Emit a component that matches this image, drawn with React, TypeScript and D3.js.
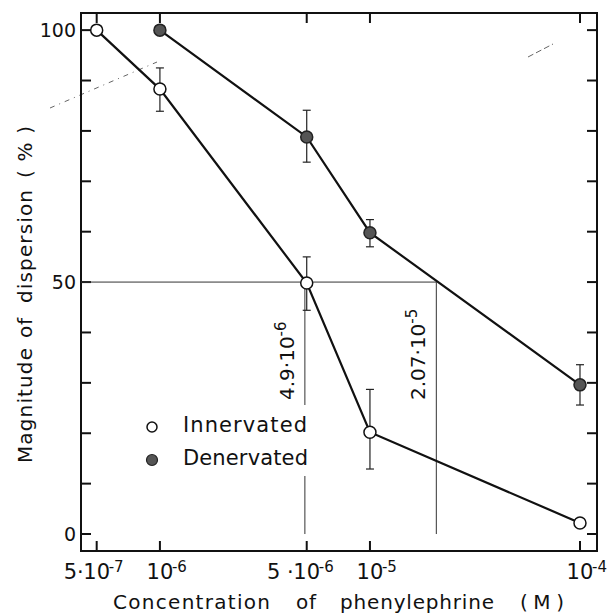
import { useRef, useEffect } from "react";
import * as d3 from "d3";

// concentrations (M) and response (%)
const concInnervated = [5e-7, 1e-6, 5e-6, 1e-5, 1e-4];
const innervated = [100, 88.3, 49.8, 20.2, 2.2];
const innervatedHi = [null, 92.5, 55, 28.7, null];
const innervatedLo = [null, 83.9, 44.4, 12.9, null];

const concDenervated = [1e-6, 5e-6, 1e-5, 1e-4];
const denervated = [100, 78.8, 59.8, 29.6];
const denervatedHi = [null, 84.1, 62.4, 33.6];
const denervatedLo = [null, 73.8, 57, 25.6];

// half-maximal concentrations
const ed50 = [4.9e-6, 2.07e-5];
const ed50Main = ["4.9·10", "2.07·10"];
const ed50Exp = ["-6", "-5"];

const xTicks = [5e-7, 1e-6, 5e-6, 1e-5, 1e-4];
const xTickPrefix = ["5·", "", "5 ·", "", ""];
const xTickExp = ["-7", "-6", "-6", "-5", "-4"];
const yTicks = [0, 10, 20, 30, 40, 50, 60, 70, 80, 90, 100];
const yLabels = [0, 50, 100];

const FONT = "'DejaVu Sans', sans-serif";

function drawChart(el: SVGSVGElement) {
  const svg = d3.select(el);
  svg.selectAll("*").remove();

  const x = d3.scaleLog().domain([4.21e-7, 1.205e-4]).range([81, 597]);
  const y = d3.scaleLinear().domain([-3.37, 103.4]).range([551, 13]);
  const [x0, x1] = x.range();
  const [y0, y1] = y.range();

  // stray scan marks
  svg.append("line").attr("x1", 50).attr("y1", 108).attr("x2", 157).attr("y2", 62)
    .attr("stroke", "#666").attr("stroke-width", 1).attr("stroke-dasharray", "5,5,1,5");
  svg.append("line").attr("x1", 528).attr("y1", 57).attr("x2", 553).attr("y2", 44)
    .attr("stroke", "#666").attr("stroke-width", 1).attr("stroke-dasharray", "6,3");

  // frame
  svg.append("rect").attr("x", x0).attr("y", y1).attr("width", x1 - x0).attr("height", y0 - y1)
    .attr("fill", "none").attr("stroke", "#111").attr("stroke-width", 2);

  const ticks = svg.append("g").attr("stroke", "#111").attr("stroke-width", 2);
  yTicks.forEach((t) => {
    ticks.append("line").attr("x1", x0).attr("x2", x0 + 10).attr("y1", y(t)).attr("y2", y(t));
    ticks.append("line").attr("x1", x1).attr("x2", x1 - 10).attr("y1", y(t)).attr("y2", y(t));
  });
  xTicks.forEach((t) => {
    ticks.append("line").attr("x1", x(t)).attr("x2", x(t)).attr("y1", y0).attr("y2", y0 - 10);
    ticks.append("line").attr("x1", x(t)).attr("x2", x(t)).attr("y1", y1).attr("y2", y1 + 10);
  });

  // y tick labels
  svg.append("g").selectAll("text").data(yLabels).join("text")
    .attr("x", 76).attr("y", (d) => y(d) + 7)
    .attr("text-anchor", "end").attr("font-size", 19).attr("font-family", FONT)
    .attr("fill", "#111").text((d) => d);

  // x tick labels: 10 centred on the tick, prefix and exponent around it
  const xl = svg.append("g").attr("font-family", FONT).attr("fill", "#111");
  xTicks.forEach((t, i) => {
    const cx = x(t);
    xl.append("text").attr("x", cx).attr("y", 579).attr("text-anchor", "middle")
      .attr("font-size", 21).text("10");
    if (xTickPrefix[i]) {
      xl.append("text").attr("x", cx - 13).attr("y", 579).attr("text-anchor", "end")
        .attr("font-size", 21).text(xTickPrefix[i]);
    }
    xl.append("text").attr("x", cx + 12).attr("y", 572).attr("text-anchor", "start")
      .attr("font-size", 15).text(xTickExp[i]);
  });

  // axis titles
  const xTitle = [["Concentration", 113, 157], ["of", 296, 20], ["phenylephrine", 340, 154], ["(M)", 520, 44]];
  xTitle.forEach(([w, px, len]) => {
    svg.append("text").attr("x", px as number).attr("y", 609).attr("font-size", 20)
      .attr("font-family", FONT).attr("fill", "#111")
      .attr("textLength", len as number).attr("lengthAdjust", "spacing").text(w as string);
  });
  const yTitle = [["Magnitude", 463, 115], ["of", 338, 20], ["dispersion", 303, 113], ["(%)", 178, 52]];
  yTitle.forEach(([w, py, len]) => {
    svg.append("text").attr("transform", `translate(32,${py}) rotate(-90)`)
      .attr("font-size", 20).attr("font-family", FONT).attr("fill", "#111")
      .attr("textLength", len as number).attr("lengthAdjust", "spacing").text(w as string);
  });

  // ED50 guide lines
  const guide = svg.append("g").attr("stroke", "#333").attr("stroke-width", 1);
  guide.append("line").attr("x1", x0).attr("x2", x(ed50[1])).attr("y1", y(50)).attr("y2", y(50));
  guide.append("line").attr("x1", x(ed50[0])).attr("x2", x(ed50[0])).attr("y1", y(50)).attr("y2", 405);
  guide.append("line").attr("x1", x(ed50[0])).attr("x2", x(ed50[0])).attr("y1", 476).attr("y2", y(0));
  guide.append("line").attr("x1", x(ed50[1])).attr("x2", x(ed50[1])).attr("y1", y(50)).attr("y2", y(0));

  ed50.forEach((c, i) => {
    const t = svg.append("text").attr("transform", `translate(${x(c) - 11},400) rotate(-90)`)
      .attr("font-size", 20).attr("font-family", FONT).attr("fill", "#111");
    t.append("tspan").text(ed50Main[i]);
    t.append("tspan").attr("dy", -8).attr("font-size", 15).text(ed50Exp[i]);
  });

  // series lines
  const line = d3.line<[number, number]>().x((d) => x(d[0])).y((d) => y(d[1]));
  const innPts = concInnervated.map((c, i) => [c, innervated[i]] as [number, number]);
  const denPts = concDenervated.map((c, i) => [c, denervated[i]] as [number, number]);
  svg.append("path").attr("d", line(innPts)).attr("fill", "none").attr("stroke", "#111").attr("stroke-width", 2.2);
  svg.append("path").attr("d", line(denPts)).attr("fill", "none").attr("stroke", "#111").attr("stroke-width", 2.2);

  // error bars
  const err = svg.append("g").attr("stroke", "#222").attr("stroke-width", 1.2);
  const drawErr = (cs: number[], hi: (number | null)[], lo: (number | null)[]) => {
    cs.forEach((c, i) => {
      const h = hi[i], l = lo[i];
      if (h == null || l == null) return;
      const cx = x(c);
      err.append("line").attr("x1", cx).attr("x2", cx).attr("y1", y(h)).attr("y2", y(l));
      err.append("line").attr("x1", cx - 4).attr("x2", cx + 4).attr("y1", y(h)).attr("y2", y(h));
      err.append("line").attr("x1", cx - 4).attr("x2", cx + 4).attr("y1", y(l)).attr("y2", y(l));
    });
  };
  drawErr(concInnervated, innervatedHi, innervatedLo);
  drawErr(concDenervated, denervatedHi, denervatedLo);

  // markers
  svg.append("g").selectAll("circle").data(innPts).join("circle")
    .attr("cx", (d) => x(d[0])).attr("cy", (d) => y(d[1])).attr("r", 6)
    .attr("fill", "#fff").attr("stroke", "#111").attr("stroke-width", 1.5);
  svg.append("g").selectAll("circle").data(denPts).join("circle")
    .attr("cx", (d) => x(d[0])).attr("cy", (d) => y(d[1])).attr("r", 6)
    .attr("fill", "#555").attr("stroke", "#222").attr("stroke-width", 1.5);

  // legend
  svg.append("circle").attr("cx", 152).attr("cy", 427).attr("r", 5)
    .attr("fill", "#fff").attr("stroke", "#111").attr("stroke-width", 1.5);
  svg.append("circle").attr("cx", 152).attr("cy", 460).attr("r", 5.5)
    .attr("fill", "#555").attr("stroke", "#222").attr("stroke-width", 1.2);
  [["Innervated", 432, 124], ["Denervated", 465, 125]].forEach(([w, py, len]) => {
    svg.append("text").attr("x", 183).attr("y", py as number).attr("font-size", 21)
      .attr("font-family", FONT).attr("fill", "#111")
      .attr("textLength", len as number).attr("lengthAdjust", "spacing").text(w as string);
  });
}

export default function App() {
  const ref = useRef<SVGSVGElement>(null);

  useEffect(() => {
    if (ref.current) drawChart(ref.current);
  }, []);

  return (
    <svg
      ref={ref}
      width={611}
      height={614}
      style={{ position: "absolute", left: 0, top: 0, background: "#fff" }}
    ></svg>
  );
}
